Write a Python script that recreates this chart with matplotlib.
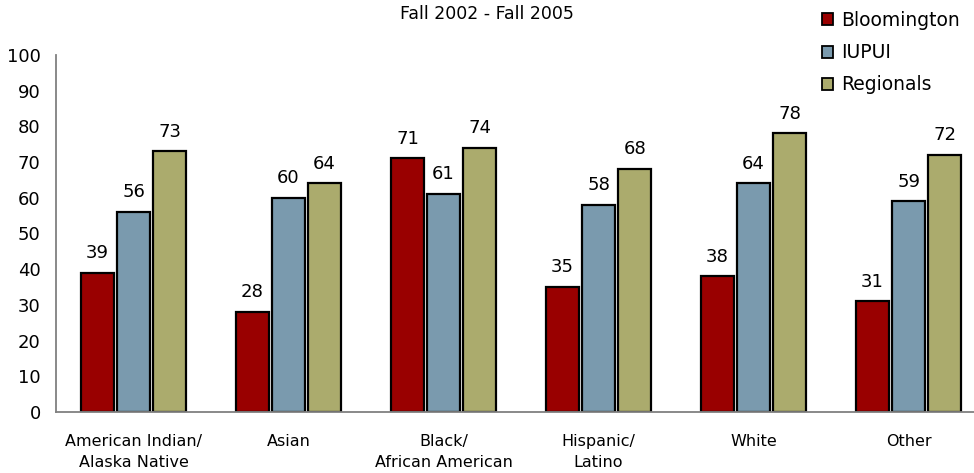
import numpy as np
import matplotlib
matplotlib.use("Agg")
import matplotlib.pyplot as plt

# =========================
# DATA
# =========================
CATEGORIES = ["American Indian/\nAlaska Native", "Asian", "Black/\nAfrican American",
              "Hispanic/\nLatino", "White", "Other"]
BLOOMINGTON = [39, 28, 71, 35, 38, 31]
IUPUI = [56, 60, 61, 58, 64, 59]
REGIONALS = [73, 64, 74, 68, 78, 72]

SERIES = ["Bloomington", "IUPUI", "Regionals"]
COLORS = ["#990000", "#7A9AAE", "#ABAB6D"]

plt.rcParams["font.family"] = ["DejaVu Sans"]

# =========================
# PLOT
# =========================
fig = plt.figure(figsize=(9.74, 4.73), dpi=100)
ax = fig.add_axes([0.0575, 0.129, 0.955, 0.755])

x = np.arange(len(CATEGORIES))
width = 0.215
step = 0.233

for i, (vals, name, col) in enumerate(zip([BLOOMINGTON, IUPUI, REGIONALS], SERIES, COLORS)):
    bars = ax.bar(x + (i - 1) * step, vals, width, color=col, edgecolor="black",
                  linewidth=1.6, label=name)
    for b, v in zip(bars, vals):
        ax.text(b.get_x() + b.get_width() / 2, v + 3, str(v), ha="center", va="bottom",
                fontsize=13)

ax.set_ylim(0, 100)
ax.set_xlim(-0.5, 5.5)
ax.set_yticks(range(0, 101, 10))
ax.set_xticks(x)
ax.set_xticklabels(CATEGORIES, fontsize=11.5, linespacing=1.45)
ax.tick_params(axis="y", length=0, labelsize=13, pad=11)
ax.tick_params(axis="x", length=0, pad=16)

for s in ["top", "right"]:
    ax.spines[s].set_visible(False)
for s in ["left", "bottom"]:
    ax.spines[s].set_color("#808080")
    ax.spines[s].set_linewidth(1.3)

fig.text(0.5, 0.97, "Fall 2002 - Fall 2005", ha="center", va="center", fontsize=12.5)

leg = ax.legend(loc="upper left", bbox_to_anchor=(0.805, 1.17), frameon=False, fontsize=13.5,
                handlelength=0.6, handleheight=0.6, handletextpad=0.45, labelspacing=0.7)
for h in leg.legend_handles:
    h.set_linewidth(1.3)

fig.savefig("out.png", dpi=100)
